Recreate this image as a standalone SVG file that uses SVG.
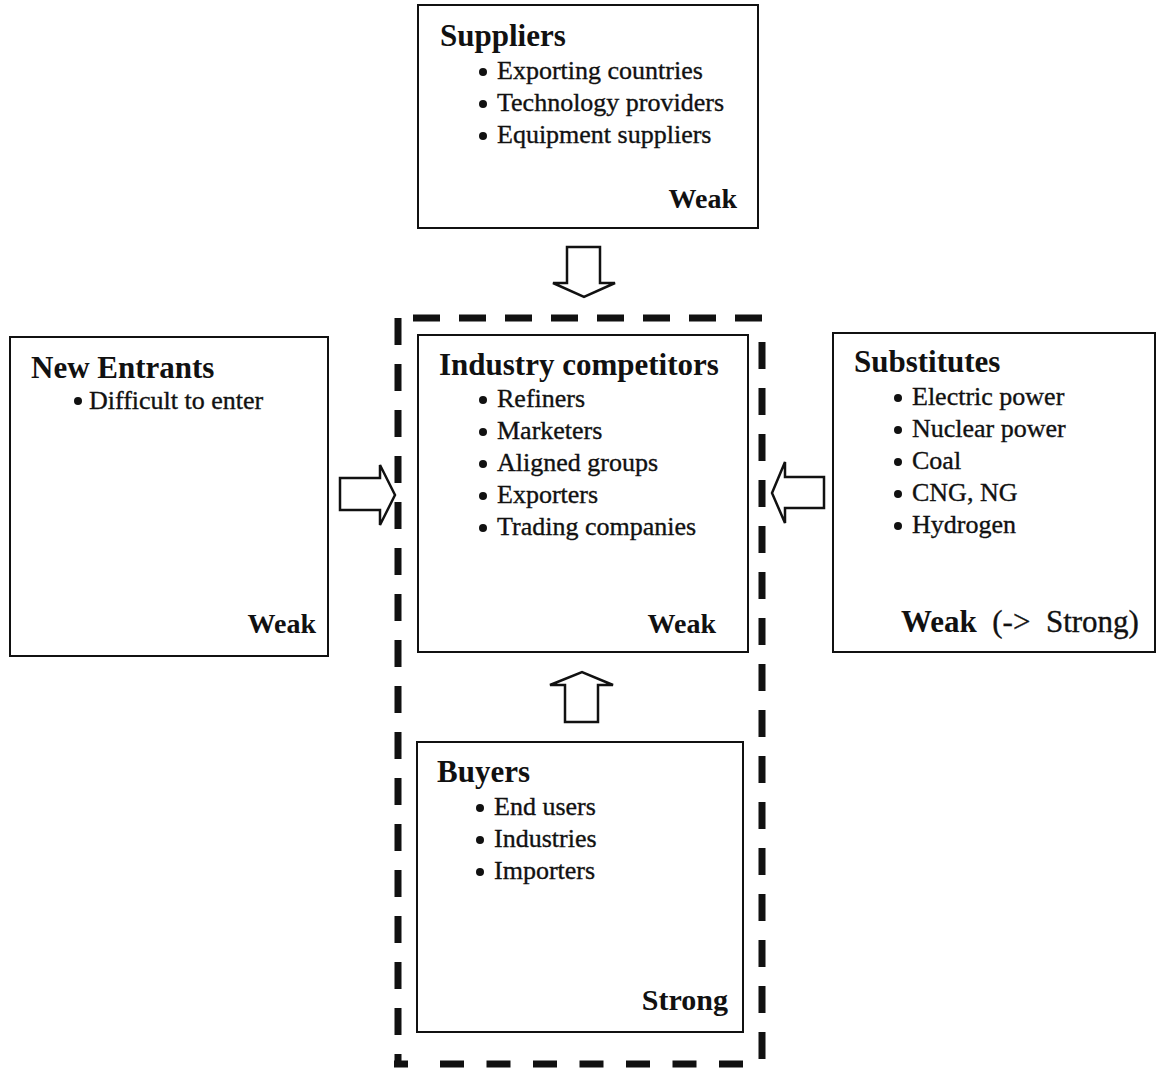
<svg xmlns="http://www.w3.org/2000/svg" width="1156" height="1068" viewBox="0 0 1156 1068">
  <style>
    .box { fill: #fff; stroke: #111; stroke-width: 2; }
    .arrow { fill: #fff; stroke: #111; stroke-width: 2.5; stroke-linejoin: miter; }
    .dash { fill: none; stroke: #111; stroke-width: 7; stroke-dasharray: 27 19; }
    .dash.low { stroke-dasharray: 24 22.5; }
    .title { font-family: "Liberation Serif", "Times New Roman", serif; font-weight: bold; font-size: 31px; fill: #111; }
    .item { font-family: "Liberation Serif", "Times New Roman", serif; font-size: 26px; fill: #111; stroke: #111; stroke-width: 0.35; }
    .rating { font-family: "Liberation Serif", "Times New Roman", serif; font-weight: bold; font-size: 28px; fill: #111; text-anchor: end; }
    .rating.big { font-size: 30px; }
    .dot { fill: #111; }
  </style>

  <rect width="1156" height="1068" fill="#fff"/>

  <!-- industry boundary, drawn side by side so the dashes meet the corners cleanly -->
  <g id="boundary">
    <line class="dash" x1="398" y1="318" x2="398" y2="1066"/>
    <line class="dash" x1="413" y1="318" x2="766" y2="318"/>
    <line class="dash" x1="762" y1="342" x2="762" y2="1066"/>
    <line x1="394" y1="1064" x2="408" y2="1064" stroke="#111" stroke-width="7"/>
    <line class="dash low" x1="440" y1="1064" x2="762" y2="1064"/>
  </g>

  <!-- Suppliers -->
  <g id="suppliers">
    <rect class="box" x="418" y="5" width="340" height="223"/>
    <text class="title" x="440" y="46">Suppliers</text>
    <circle class="dot" cx="483" cy="72" r="4"/>
    <text class="item" x="497" y="79">Exporting countries</text>
    <circle class="dot" cx="483" cy="104" r="4"/>
    <text class="item" x="497" y="111">Technology providers</text>
    <circle class="dot" cx="483" cy="136" r="4"/>
    <text class="item" x="497" y="143">Equipment suppliers</text>
    <text class="rating" x="737" y="208">Weak</text>
  </g>

  <!-- New Entrants -->
  <g id="new-entrants">
    <rect class="box" x="10" y="337" width="318" height="319"/>
    <text class="title" x="31" y="378">New Entrants</text>
    <circle class="dot" cx="78" cy="401" r="4"/>
    <text class="item" x="89" y="409">Difficult to enter</text>
    <text class="rating" x="316" y="633">Weak</text>
  </g>

  <!-- Industry competitors -->
  <g id="competitors">
    <rect class="box" x="418" y="335" width="330" height="317"/>
    <text class="title" x="439" y="375">Industry competitors</text>
    <circle class="dot" cx="483" cy="400" r="4"/>
    <text class="item" x="497" y="407">Refiners</text>
    <circle class="dot" cx="483" cy="432" r="4"/>
    <text class="item" x="497" y="439">Marketers</text>
    <circle class="dot" cx="483" cy="464" r="4"/>
    <text class="item" x="497" y="471">Aligned groups</text>
    <circle class="dot" cx="483" cy="496" r="4"/>
    <text class="item" x="497" y="503">Exporters</text>
    <circle class="dot" cx="483" cy="528" r="4"/>
    <text class="item" x="497" y="535">Trading companies</text>
    <text class="rating" x="716" y="633">Weak</text>
  </g>

  <!-- Substitutes -->
  <g id="substitutes">
    <rect class="box" x="833" y="333" width="322" height="319"/>
    <text class="title" x="854" y="372">Substitutes</text>
    <circle class="dot" cx="898" cy="398" r="4"/>
    <text class="item" x="912" y="405">Electric power</text>
    <circle class="dot" cx="898" cy="430" r="4"/>
    <text class="item" x="912" y="437">Nuclear power</text>
    <circle class="dot" cx="898" cy="462" r="4"/>
    <text class="item" x="912" y="469">Coal</text>
    <circle class="dot" cx="898" cy="494" r="4"/>
    <text class="item" x="912" y="501">CNG, NG</text>
    <circle class="dot" cx="898" cy="526" r="4"/>
    <text class="item" x="912" y="533">Hydrogen</text>
    <text x="901" y="632" font-family="Liberation Serif, Times New Roman, serif" font-size="31" fill="#111" stroke="#111" stroke-width="0.35" xml:space="preserve"><tspan font-weight="bold" stroke="none">Weak</tspan>  (-&gt;  Strong)</text>
  </g>

  <!-- Buyers -->
  <g id="buyers">
    <rect class="box" x="417" y="742" width="326" height="290"/>
    <text class="title" x="437" y="782">Buyers</text>
    <circle class="dot" cx="480" cy="808" r="4"/>
    <text class="item" x="494" y="815">End users</text>
    <circle class="dot" cx="480" cy="840" r="4"/>
    <text class="item" x="494" y="847">Industries</text>
    <circle class="dot" cx="480" cy="872" r="4"/>
    <text class="item" x="494" y="879">Importers</text>
    <text class="rating big" x="728" y="1010">Strong</text>
  </g>

  <!-- force arrows -->
  <g id="connectors">
    <polygon class="arrow" points="567,247 600,247 600,283 615,283 584,297 553,283 567,283"/>
    <polygon class="arrow" points="565,722 598,722 598,685 613,685 582,672 550,685 565,685"/>
    <polygon class="arrow" points="340,478 380,478 380,465 395,495 380,525 380,510 340,510"/>
    <polygon class="arrow" points="824,477 785,477 785,462 772,493 785,523 785,508 824,508"/>
  </g>
</svg>
